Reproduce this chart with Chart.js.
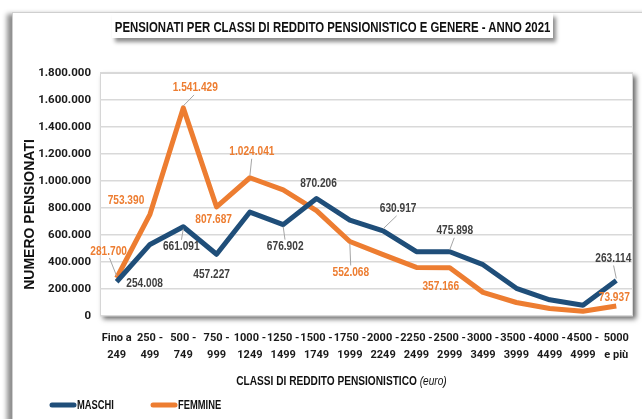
<!DOCTYPE html>
<html>
<head>
<meta charset="utf-8">
<script src="https://cdn.jsdelivr.net/npm/chart.js@4.4.1/dist/chart.umd.min.js"></script>
<style>
  body { margin: 0; background: #fff; overflow: hidden; }
  #wrap { position: relative; width: 642px; height: 419px; }
  #frame {
    position: absolute; left: 12px; top: 12px; width: 640px; height: 420px;
    border-top: 1px solid #cfcfcf; border-left: 1px solid #cfcfcf;
    box-shadow: -5px 2px 5px rgba(0,0,0,0.45);
  }
  #title {
    position: absolute; left: 112px; top: 13px; width: 441px; height: 25px;
    background: #fff; box-shadow: 3px 4px 4px rgba(0,0,0,0.45);
    text-align: center; white-space: nowrap; overflow: visible;
  }
  #title span {
    display: inline-block; transform: scaleX(0.76); transform-origin: center;
    font: bold 15px "Liberation Sans", Arial, sans-serif;
    color: #111; line-height: 27px; margin: 0 -100px;
  }
  canvas { position: absolute; left: 0; top: 0; }
</style>
</head>
<body>
<div id="wrap">
  <div id="frame"></div>
  <canvas id="chart" width="642" height="419"></canvas>
  <div id="title"><span>PENSIONATI PER CLASSI DI REDDITO PENSIONISTICO E GENERE - ANNO 2021</span></div>
</div>
<script>
const classi = [
  ["Fino a", "249"], ["250 -", "499"], ["500 -", "749"], ["750 -", "999"],
  ["1000 -", "1249"], ["1250 -", "1499"], ["1500 -", "1749"], ["1750 -", "1999"],
  ["2000 -", "2249"], ["2250 -", "2499"], ["2500 -", "2999"], ["3000 -", "3499"],
  ["3500 -", "3999"], ["4000 -", "4499"], ["4500 -", "4999"], ["5000", "e più"]
];
const maschi = [254008, 530000, 661091, 457227, 770000, 676902, 870206, 710000,
  630917, 476000, 475898, 380000, 205000, 120000, 80000, 263114];
const femmine = [281700, 753390, 1541429, 807687, 1024041, 935000, 780000, 552068,
  455000, 360000, 357166, 175000, 100000, 55000, 35000, 73937];
const yTicks = [0, 200000, 400000, 600000, 800000, 1000000, 1200000, 1400000, 1600000, 1800000];

// which points get a value label (index in the series)
const labelMaschi = [0, 2, 3, 5, 6, 8, 10, 15];
const labelFemmine = [0, 1, 2, 3, 4, 7, 10, 15];

const BLUE = "#1f4e79", ORANGE = "#ed7d31";
const SANS = '"Liberation Sans", Arial, sans-serif';
const TICKFONT = 'Roboto, "Liberation Sans", sans-serif';
const NARROW = 0.78; // horizontal squeeze to get a narrow face

function fmt(v) {
  return String(v).replace(/\B(?=(\d{3})+(?!\d))/g, ".");
}

function narrowText(ctx, txt, x, y) {
  ctx.save();
  ctx.translate(x, y);
  ctx.scale(NARROW, 1);
  ctx.fillText(txt, 0, 0);
  ctx.restore();
}

// label placement relative to the point: [dx, dy, leader]
const placeM = {0: [28, 2, 0], 2: [-2, 20, 1], 3: [-5, 20, 0], 5: [2, 22, 1],
  6: [2, -15, 0], 8: [15, -22, 1], 10: [5, -21, 1], 15: [-3, -22, 1]};
const placeF = {0: [-8, -27, 1], 1: [-24, -14, 0], 2: [12, -20, 1], 3: [-3, 12, 0],
  4: [2, -26, 1], 7: [1, 31, 1], 10: [-9, 19, 0], 15: [-2, -9, 0]};

const plotBox = {
  id: "plotBox",
  beforeDraw(chart) {
    const a = chart.chartArea, ctx = chart.ctx;
    ctx.save();
    ctx.shadowColor = "rgba(0,0,0,0.6)";
    ctx.shadowBlur = 5;
    ctx.shadowOffsetX = 3;
    ctx.shadowOffsetY = 3;
    ctx.fillStyle = "#fff";
    ctx.fillRect(a.left, a.top, a.right - a.left, a.bottom - a.top);
    ctx.restore();
    ctx.save();
    ctx.strokeStyle = "#d6d6d6";
    ctx.lineWidth = 1;
    ctx.strokeRect(a.left + 0.5, a.top + 0.5, a.right - a.left - 1, a.bottom - a.top - 1);
    ctx.restore();
  }
};

const valueLabels = {
  id: "valueLabels",
  afterDatasetsDraw(chart) {
    const ctx = chart.ctx;
    ctx.save();
    ctx.font = "bold 13px " + SANS;
    ctx.textAlign = "center";
    ctx.textBaseline = "middle";
    [[0, labelMaschi, placeM, "#404040"], [1, labelFemmine, placeF, ORANGE]].forEach(([d, idx, place, col]) => {
      const meta = chart.getDatasetMeta(d);
      const data = chart.data.datasets[d].data;
      idx.forEach(i => {
        const p = meta.data[i];
        const [dx, dy, leader] = place[i];
        const lx = p.x + dx, ly = p.y + dy;
        if (leader) {
          ctx.strokeStyle = "#a6a6a6";
          ctx.lineWidth = 1;
          ctx.beginPath();
          const sy = ly + (dy < 0 ? 7 : -7);
          ctx.moveTo(lx - dx * 0.1, sy);
          ctx.lineTo(p.x, p.y + (dy < 0 ? -2 : 2));
          ctx.stroke();
        }
        ctx.fillStyle = col;
        narrowText(ctx, fmt(data[i]), lx, ly);
      });
    });
    ctx.restore();
  }
};

const extras = {
  id: "extras",
  afterDraw(chart) {
    const ctx = chart.ctx, a = chart.chartArea;
    ctx.save();
    // y axis title
    ctx.fillStyle = "#111";
    ctx.font = "bold 14px " + SANS;
    ctx.textAlign = "center";
    ctx.textBaseline = "middle";
    ctx.translate(30, (a.top + a.bottom) / 2 + 20);
    ctx.rotate(-Math.PI / 2);
    ctx.fillText("NUMERO PENSIONATI", 0, 0);
    ctx.restore();

    // x axis title, bold + italic part
    ctx.save();
    ctx.textBaseline = "middle";
    ctx.textAlign = "left";
    ctx.fillStyle = "#111";
    const t1 = "CLASSI DI REDDITO PENSIONISTICO ", t2 = "(euro)";
    ctx.font = "bold 13px " + SANS;
    const w1 = ctx.measureText(t1).width * NARROW;
    ctx.font = "italic 13px " + SANS;
    const w2 = ctx.measureText(t2).width * NARROW;
    const x = (a.left + a.right) / 2 - 25 - (w1 + w2) / 2;
    const y = 381;
    ctx.font = "bold 13px " + SANS;
    narrowText(ctx, t1, x, y);
    ctx.font = "italic 13px " + SANS;
    narrowText(ctx, t2, x + w1, y);

    // legend
    ctx.font = "bold 12px " + SANS;
    ctx.lineCap = "round";
    ctx.lineWidth = 5;
    chart.data.datasets.forEach((ds, k) => {
      const lx = 52 + k * 101;
      ctx.strokeStyle = ds.borderColor;
      ctx.beginPath();
      ctx.moveTo(lx, 405);
      ctx.lineTo(lx + 22, 405);
      ctx.stroke();
      ctx.fillStyle = "#111";
      narrowText(ctx, ds.label, lx + 25, 406);
    });
    ctx.restore();
  }
};

new Chart(document.getElementById("chart"), {
  type: "line",
  data: {
    labels: classi,
    datasets: [
      { label: "MASCHI", data: maschi, borderColor: BLUE, backgroundColor: BLUE },
      { label: "FEMMINE", data: femmine, borderColor: ORANGE, backgroundColor: ORANGE }
    ]
  },
  options: {
    responsive: false,
    animation: false,
    layout: { padding: { left: 20, top: 73, right: 3, bottom: 53 } },
    elements: {
      line: { borderWidth: 5, tension: 0, borderJoinStyle: "round" },
      point: { radius: 0, hoverRadius: 0 }
    },
    plugins: { legend: { display: false }, tooltip: { enabled: false } },
    scales: {
      x: {
        offset: true,
        grid: { display: false, drawTicks: false },
        border: { display: false },
        ticks: {
          padding: 13, maxRotation: 0, autoSkip: false, color: "#1a1a1a",
          font: { family: TICKFONT, size: 11, weight: "bold", lineHeight: 1.6 }
        },
        afterFit(s) { s.height = 50; }
      },
      y: {
        min: 0, max: 1800000,
        afterBuildTicks(s) { s.ticks = yTicks.map(v => ({ value: v })); },
        grid: { color: "#d9d9d9", lineWidth: 1.5, drawTicks: false },
        border: { display: false },
        ticks: {
          padding: 9, color: "#1a1a1a",
          font: { family: TICKFONT, size: 11.5, weight: "bold" },
          callback: v => fmt(v)
        },
        afterFit(s) { s.width = 80; }
      }
    }
  },
  plugins: [plotBox, valueLabels, extras]
});
</script>
</body>
</html>
